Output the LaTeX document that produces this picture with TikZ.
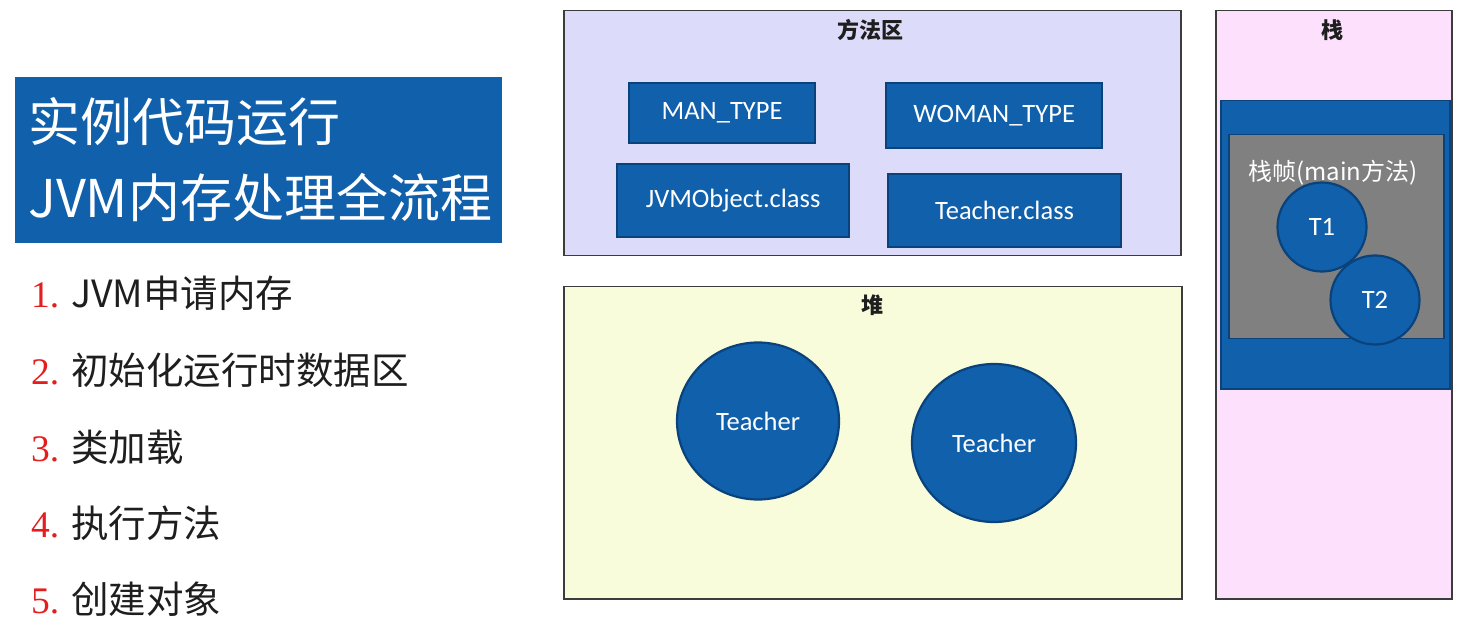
\documentclass[tikz,border=0pt]{standalone}
\usepackage{fontspec}
\setmainfont{Carlito}
\newfontfamily\cjk{Noto Sans CJK SC}
\newfontfamily\numfont{Liberation Serif}
\usetikzlibrary{shapes.geometric}
\definecolor{bfill}{RGB}{16,96,172}
\definecolor{bline}{RGB}{10,66,124}
\definecolor{lav}{RGB}{220,220,250}
\definecolor{yel}{RGB}{248,252,218}
\definecolor{pink}{RGB}{252,224,252}
\definecolor{grayf}{RGB}{128,128,128}
\definecolor{rline}{RGB}{60,60,60}
\definecolor{numred}{RGB}{228,30,30}
\definecolor{txt}{RGB}{30,30,30}
\tikzset{
  region/.style={draw=rline, line width=1.5pt, anchor=north west, inner sep=0pt},
  rtitle/.style={font=\cjk\bfseries\fontsize{22}{26}\selectfont, text=txt},
  cbox/.style={draw=bline, line width=2.2pt, fill=bfill, text=white, anchor=north west, inner sep=0pt,
    font=\fontsize{26.5}{30}\selectfont},
  obj/.style={ellipse, draw=bline, line width=2.2pt, fill=bfill, text=white, inner sep=0pt,
    font=\fontsize{26.5}{32}\selectfont},
  item/.style={anchor=west, inner sep=0pt, text=txt, font=\cjk\fontsize{37.5}{40}\selectfont},
  ttl/.style={anchor=west, inner sep=0pt, text=white, font=\cjk\fontsize{52}{56}\selectfont},
}
\newcommand{\num}[1]{{\numfont\color{numred}#1}\hspace{12pt}}
\begin{document}
\begin{tikzpicture}[x=1pt, y=-1pt]
\useasboundingbox[fill=white] (0,0) rectangle (1465,620);
% title
\node[fill=bfill, anchor=north west, minimum width=487pt, minimum height=166pt, inner sep=0pt] (tbox) at (15,77) {};
\node[ttl] (t1) at (28,122) {实例代码运行};
\node[ttl] (t2) at (28,198) {JVM内存处理全流程};
% list
\node[item] (l1) at (31,293) {\num{1.}JVM申请内存};
\node[item] (l2) at (31,370) {\num{2.}初始化运行时数据区};
\node[item] (l3) at (31,447) {\num{3.}类加载};
\node[item] (l4) at (31,523) {\num{4.}执行方法};
\node[item] (l5) at (31,599) {\num{5.}创建对象};
% method area
\node[region, fill=lav, minimum width=617pt, minimum height=245pt] (ma) at (563,10) {};
\node[rtitle] (mat) at (870,30) {方法区};
\node[cbox, minimum width=186pt, minimum height=60pt] (man) at (628,82) {MAN\_TYPE};
\node[cbox, minimum width=216pt, minimum height=65pt] (woman) at (885,82) {WOMAN\_TYPE};
\node[cbox, minimum width=232pt, minimum height=73pt] (jvmo) at (616,163) {JVMObject.class};
\node[cbox, minimum width=233pt, minimum height=73pt] (tc) at (887,173) {Teacher.class};
% heap
\node[region, fill=yel, minimum width=618pt, minimum height=312pt] (heap) at (563,286) {};
\node[rtitle] (heapt) at (872,305) {堆};
\node[obj, minimum width=162pt, minimum height=157pt] (o1) at (758,421) {Teacher};
\node[obj, minimum width=164pt, minimum height=158pt] (o2) at (994,443) {Teacher};
% stack
\node[region, fill=pink, minimum width=236pt, minimum height=588pt] (stk) at (1215,10) {};
\node[rtitle] (stkt) at (1332,30) {栈};
\node[draw=bline, line width=1.5pt, fill=bfill, anchor=north west, inner sep=0pt, minimum width=229pt, minimum height=288pt] (frame) at (1220,100) {};
\node[draw=bline, line width=1.5pt, fill=grayf, anchor=north west, inner sep=0pt, minimum width=215pt, minimum height=204pt] (gframe) at (1228,134) {};
\node[text=white, inner sep=0pt, font=\cjk\fontsize{24}{28}\selectfont] (sf) at (1333,173) {栈帧(main方法)};
\node[obj, circle, minimum size=89pt] (T1) at (1322,227) {T1};
\node[obj, circle, minimum size=89pt] (T2) at (1375,300) {T2};
\end{tikzpicture}
\end{document}
